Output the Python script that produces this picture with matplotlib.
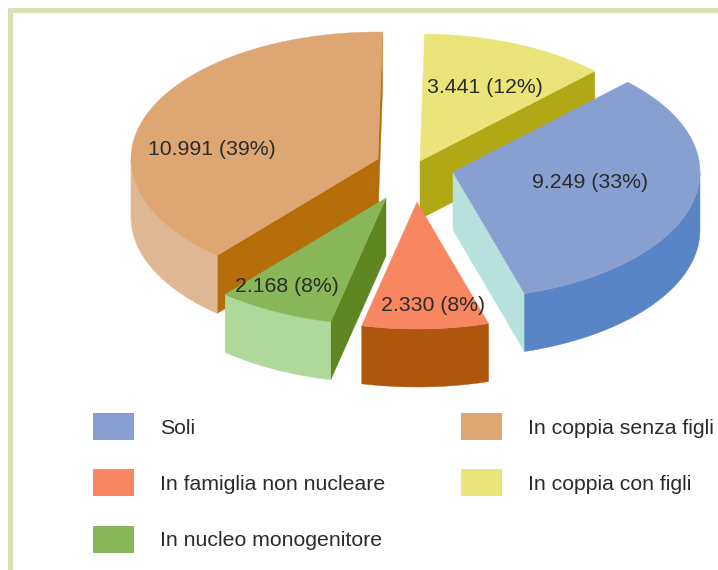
import numpy as np
import matplotlib
matplotlib.use('Agg')
import matplotlib.pyplot as plt
from matplotlib.patches import Polygon, Rectangle

categories = ['Soli', 'In famiglia non nucleare', 'In nucleo monogenitore',
              'In coppia senza figli', 'In coppia con figli']
values = [9249, 2330, 2168, 10991, 3441]

# pie geometry, in pixels of the 718x570 picture
rx, ry = 247, 127
depth = 58
start_angle = 45
centres = [(453, 172), (417, 202), (386, 198), (378, 159), (420, 161)]
label_pos = [(532, 182.5), (381, 305.5), (235, 286.5), (148, 149.5), (427, 87.5)]
legend_pos = [(93, 413), (93, 469), (93, 526), (461, 413), (461, 469)]

top_colors = ['#889FD2', '#F88661', '#89B658', '#DDA673', '#E9E57A']
wall_colors = ['#5985C6', '#AE560D', '#AED99B', '#E0B793', '#E9E57A']
first_side = [None, None, '#5F8622', '#B46F0B', None]
last_side = ['#B7E1DC', None, None, '#B46F0B', '#B0A815']
draw_order = [3, 4, 0, 2, 1]

border = '#D9E0B8'
text_color = '#2B2B2B'
plt.rcParams['font.family'] = ['Liberation Sans', 'DejaVu Sans']
fs = 15.3


def rim(c, a):
    a = np.radians(a)
    return np.column_stack([c[0] + rx * np.cos(a), c[1] - ry * np.sin(a)])


def fill(ax, pts, color):
    ax.add_patch(Polygon(pts, closed=True, facecolor=color, edgecolor=color, linewidth=0.3))


def side(ax, c, a, color):
    p = rim(c, [a])[0]
    fill(ax, [c, p, (p[0], p[1] + depth), (c[0], c[1] + depth)], color)


fig = plt.figure(figsize=(7.18, 5.70), dpi=100)
ax = fig.add_axes([0, 0, 1, 1])
ax.set_xlim(0, 718)
ax.set_ylim(570, 0)
ax.axis('off')

ax.add_patch(Rectangle((8, 8), 710, 4.5, facecolor=border, edgecolor='none'))
ax.add_patch(Rectangle((8, 8), 4.5, 562, facecolor=border, edgecolor='none'))

sweeps = np.array(values) / sum(values) * 360
ends = start_angle - np.cumsum(sweeps)
starts = ends + sweeps

for i in draw_order:
    c = centres[i]
    if first_side[i]:
        side(ax, c, starts[i], first_side[i])
    if last_side[i]:
        side(ax, c, ends[i], last_side[i])

    angles = np.linspace(starts[i], ends[i], 300)
    lower = angles[np.sin(np.radians(angles)) <= 0]
    if len(lower):
        edge = rim(c, lower)
        fill(ax, np.vstack([edge, (edge + [0, depth])[::-1]]), wall_colors[i])

    fill(ax, np.vstack([[c], rim(c, angles)]), top_colors[i])

total = sum(values)
for v, pos in zip(values, label_pos):
    txt = '%s (%d%%)' % (format(v, ',').replace(',', '.'), round(v / total * 100))
    ax.text(pos[0], pos[1], txt, fontsize=fs, color=text_color, ha='left', va='center')

for name, col, pos in zip(categories, top_colors, legend_pos):
    ax.add_patch(Rectangle(pos, 41, 27, facecolor=col, edgecolor='none'))
    ax.text(pos[0] + 67, pos[1] + 15, name, fontsize=fs, color=text_color, ha='left', va='center')

fig.savefig('out.png', dpi=100)
